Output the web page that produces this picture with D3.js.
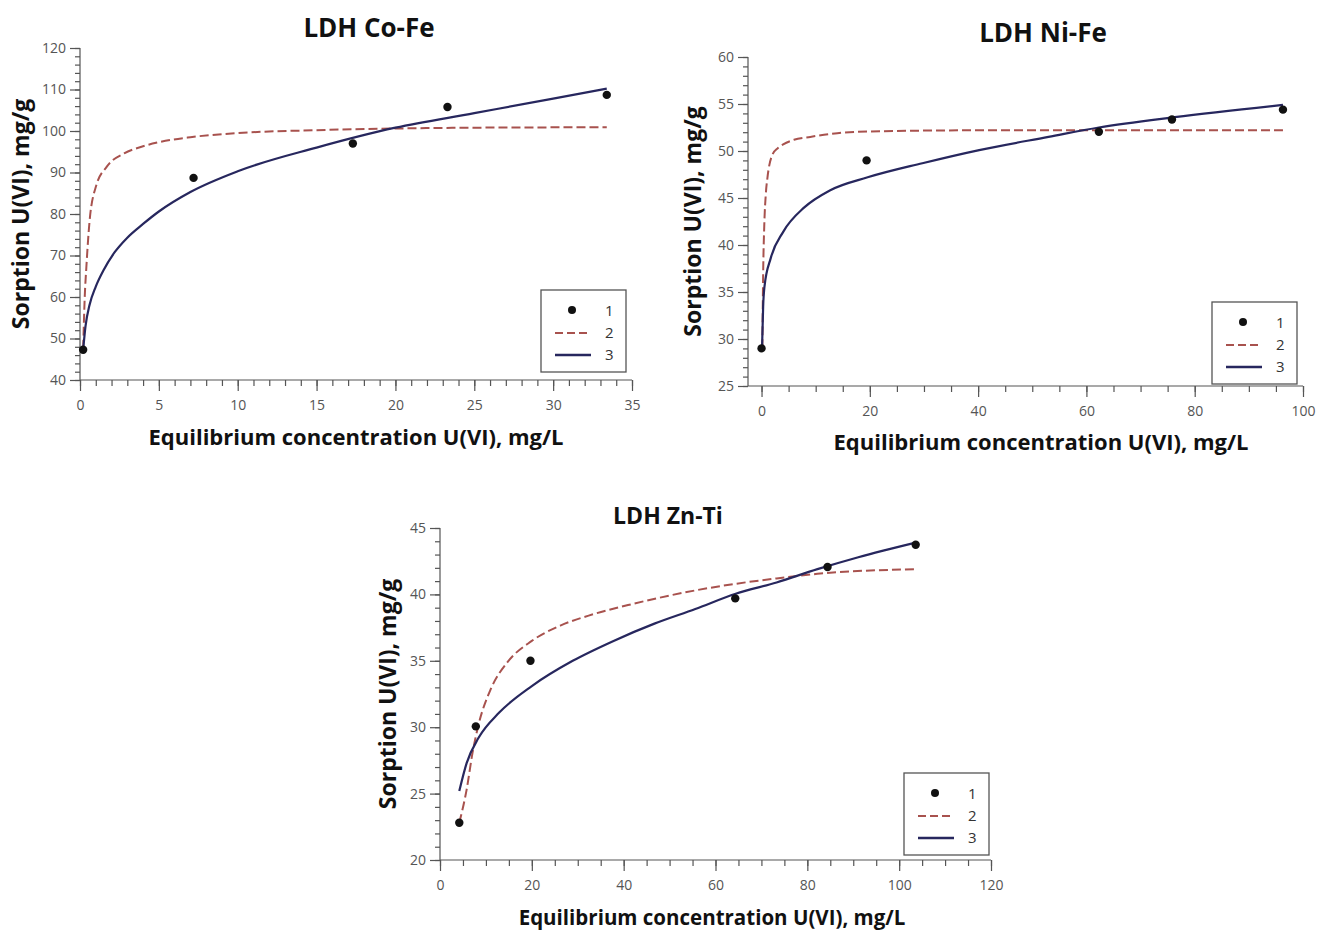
<!DOCTYPE html>
<html>
<head>
<meta charset="utf-8">
<script src="https://cdn.jsdelivr.net/npm/d3@7"></script>
<style>
  body { margin: 0; background: #fff; }
</style>
</head>
<body>
<div id="chart"></div>
<script>
// LDH Co-Fe: measured points (1), Langmuir curve (2), Freundlich curve (3)
const coFePoints = [[0.2, 47.3], [7.2, 88.7], [17.3, 97.0], [23.3, 105.8], [33.4, 108.7]];
const coFeDashed = [[0.2, 47.5], [0.3, 60], [0.4, 67], [0.6, 78], [1, 86.5], [1.7, 91.4], [2.8, 94.6], [3.9, 96.2],
  [5, 97.3], [7, 98.5], [10, 99.5], [15, 100.2], [20, 100.6], [25, 100.8], [33.4, 100.9]];
const coFeSolid = [[0.2, 47.3], [0.35, 53], [0.6, 58], [1, 62.5], [1.5, 66.5], [2.2, 70.8], [3, 74.3], [4, 77.6],
  [5, 80.6], [7, 85.3], [10, 90.3], [15, 96], [20, 100.8], [25, 104.3], [30, 107.8], [33.4, 110.2]];

// LDH Ni-Fe
const niFePoints = [[0, 29.0], [19.4, 49.0], [62.3, 52.05], [75.8, 53.35], [96.3, 54.4]];
const niFeDashed = [[0.15, 29], [0.3, 37], [0.5, 42], [0.8, 45.5], [1.1, 47.2], [2, 49.6], [3, 50.3], [4, 50.7],
  [6, 51.2], [9, 51.5], [14, 51.9], [22, 52.1], [40, 52.2], [60, 52.2], [96.3, 52.2]];
const niFeSolid = [[0.1, 29.2], [0.3, 33.5], [0.55, 35.6], [1.7, 38.6], [4, 41.4], [7.9, 44.0], [12.6, 45.8],
  [19.6, 47.2], [29.7, 48.7], [40.2, 50.1], [53, 51.5], [62.3, 52.5], [76.3, 53.6], [96.3, 54.9]];

// LDH Zn-Ti
const znTiPoints = [[4.2, 22.8], [7.8, 30.06], [19.7, 35.0], [64.3, 39.7], [84.4, 42.06], [103.6, 43.74]];
const znTiDashed = [[4.2, 22.8], [5.8, 25.3], [7.1, 28.1], [8.4, 30.2], [11.1, 32.9], [14.7, 34.9], [20, 36.5],
  [26.2, 37.65], [33.3, 38.5], [42.2, 39.3], [55.6, 40.3], [64.4, 40.8], [73.3, 41.2], [82.2, 41.55], [103.6, 41.9]];
const znTiSolid = [[4.2, 25.2], [5.8, 27.3], [8.4, 29.2], [12.9, 31.1], [20, 33.1], [28.9, 35.0], [37.8, 36.5],
  [46.7, 37.8], [55.6, 38.9], [64.4, 40.05], [73.3, 40.9], [82.2, 41.9], [91.1, 42.8], [103.6, 43.9]];

const legendLabels = ["1", "2", "3"];
const xTitle = "Equilibrium concentration U(VI), mg/L";
const yTitle = "Sorption U(VI), mg/g";

const panels = [
  { title: "LDH Co-Fe", points: coFePoints, dashed: coFeDashed, solid: coFeSolid,
    xDomain: [0, 35], xMajor: d3.range(0, 36, 5), xMinor: d3.range(0, 36, 1),
    yDomain: [40, 120], yMajor: d3.range(40, 121, 10), yMinor: d3.range(40, 121, 2),
    left: 80, right: 632, top: 48, bottom: 380, titleX: 369, titleY: 37, titleSize: 26,
    yLabelX: 29, xLabelX: 356, xLabelY: 445, xLabelSize: 22, legend: [541, 290] },
  { title: "LDH Ni-Fe", points: niFePoints, dashed: niFeDashed, solid: niFeSolid,
    xDomain: [-2.5, 100], xMajor: d3.range(0, 101, 20), xMinor: d3.range(0, 101, 5),
    yDomain: [25, 60], yMajor: d3.range(25, 61, 5), yMinor: d3.range(25, 61, 1),
    left: 748, right: 1303, top: 57, bottom: 386, titleX: 1043, titleY: 42, titleSize: 26,
    yLabelX: 701, xLabelX: 1041, xLabelY: 450, xLabelSize: 22, legend: [1212, 302] },
  { title: "LDH Zn-Ti", points: znTiPoints, dashed: znTiDashed, solid: znTiSolid,
    xDomain: [0, 120], xMajor: d3.range(0, 121, 20), xMinor: d3.range(0, 121, 5),
    yDomain: [20, 45], yMajor: d3.range(20, 46, 5), yMinor: d3.range(20, 46, 1),
    left: 440, right: 991, top: 528, bottom: 860, titleX: 668, titleY: 524, titleSize: 23,
    yLabelX: 396, xLabelX: 712, xLabelY: 925, xLabelSize: 20.5, legend: [904, 773] }
];

const dashColor = "#a8524e";
const solidColor = "#27275e";

const svg = d3.select("#chart").append("svg")
  .attr("width", 1328)
  .attr("height", 934)
  .style("font-family", "'Open Sans', sans-serif");

panels.forEach(p => {
  const x = d3.scaleLinear().domain(p.xDomain).range([p.left, p.right]);
  const y = d3.scaleLinear().domain(p.yDomain).range([p.bottom, p.top]);
  const g = svg.append("g");

  // minor ticks
  g.append("g")
    .attr("transform", `translate(0,${p.bottom})`)
    .call(d3.axisBottom(x).tickValues(p.xMinor).tickSize(6).tickFormat(""))
    .call(a => a.select(".domain").remove());
  g.append("g")
    .attr("transform", `translate(${p.left},0)`)
    .call(d3.axisLeft(y).tickValues(p.yMinor).tickSize(5).tickFormat(""))
    .call(a => a.select(".domain").remove());

  // major ticks + labels
  const xa = g.append("g")
    .attr("transform", `translate(0,${p.bottom})`)
    .call(d3.axisBottom(x).tickValues(p.xMajor).tickSize(11).tickPadding(9).tickSizeOuter(0));
  const ya = g.append("g")
    .attr("transform", `translate(${p.left},0)`)
    .call(d3.axisLeft(y).tickValues(p.yMajor).tickSize(10).tickPadding(4).tickSizeOuter(0));

  [xa, ya].forEach(a => {
    a.selectAll("text").attr("font-size", 14).attr("fill", "#555").attr("font-family", "'Open Sans', sans-serif");
  });
  g.selectAll(".domain, .tick line").attr("stroke", "#555").attr("stroke-width", 1.2);
  xa.select(".domain").attr("d", `M${p.left},0H${p.right}`);
  ya.select(".domain").attr("d", `M0,${p.bottom}V${p.top}`);

  const line = d3.line().x(d => x(d[0])).y(d => y(d[1])).curve(d3.curveMonotoneX);

  g.append("path").datum(p.dashed)
    .attr("d", line).attr("fill", "none")
    .attr("stroke", dashColor).attr("stroke-width", 2)
    .attr("stroke-dasharray", "9,4");
  g.append("path").datum(p.solid)
    .attr("d", line).attr("fill", "none")
    .attr("stroke", solidColor).attr("stroke-width", 2.2);

  g.selectAll("circle.pt").data(p.points).join("circle")
    .attr("class", "pt")
    .attr("cx", d => x(d[0])).attr("cy", d => y(d[1]))
    .attr("r", 4.2).attr("fill", "#111");

  // titles
  g.append("text").attr("x", p.titleX).attr("y", p.titleY)
    .attr("text-anchor", "middle").attr("font-size", p.titleSize).attr("font-weight", "bold")
    .attr("fill", "#111").text(p.title);
  g.append("text").attr("x", p.xLabelX).attr("y", p.xLabelY)
    .attr("text-anchor", "middle").attr("font-size", p.xLabelSize).attr("font-weight", "bold")
    .attr("fill", "#111").text(xTitle);
  g.append("text")
    .attr("transform", `translate(${p.yLabelX},${(p.top + p.bottom) / 2}) rotate(-90)`)
    .attr("text-anchor", "middle").attr("font-size", 23).attr("font-weight", "bold")
    .attr("fill", "#111").text(yTitle);

  // legend
  const [lx, ly] = p.legend;
  const lg = g.append("g").attr("transform", `translate(${lx},${ly})`);
  lg.append("rect").attr("width", 85).attr("height", 82)
    .attr("fill", "#fff").attr("stroke", "#555").attr("stroke-width", 1.3);
  lg.append("circle").attr("cx", 31).attr("cy", 20).attr("r", 4).attr("fill", "#111");
  lg.append("line").attr("x1", 14).attr("x2", 50).attr("y1", 43).attr("y2", 43)
    .attr("stroke", dashColor).attr("stroke-width", 2).attr("stroke-dasharray", "8,4");
  lg.append("line").attr("x1", 14).attr("x2", 50).attr("y1", 65).attr("y2", 65)
    .attr("stroke", solidColor).attr("stroke-width", 2.4);
  lg.selectAll("text.lab").data(legendLabels).join("text")
    .attr("class", "lab")
    .attr("x", 64).attr("y", (d, i) => 26 + i * 22)
    .attr("font-size", 15).attr("fill", "#333").text(d => d);
});
</script>
</body>
</html>
